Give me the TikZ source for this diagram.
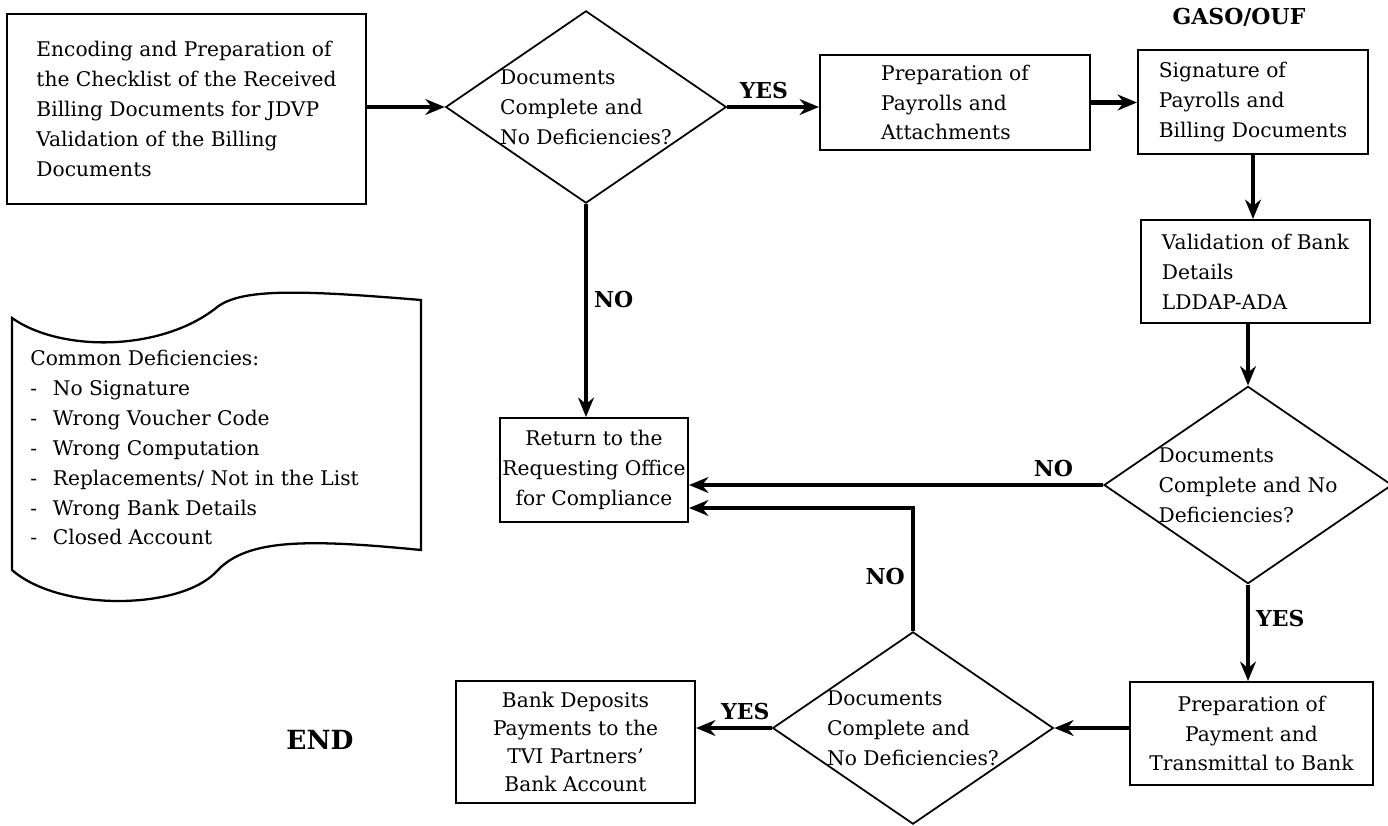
\documentclass[tikz,border=0pt]{standalone}
\usepackage{fontspec}
\setmainfont{DejaVu Serif}
\usetikzlibrary{calc,arrows.meta,shapes.geometric}

\begin{document}
\begin{tikzpicture}[x=0.02cm,y=-0.02cm,
    font=\fontsize{11.5}{17}\selectfont,
    box/.style={draw,line width=1.2pt,align=left,inner sep=0pt},
    boxc/.style={box,align=center},
    decide/.style={draw,diamond,line width=1pt,align=left,inner sep=0pt,aspect=1.46,
      minimum width=5.6cm,minimum height=3.84cm},
    flow/.style={line width=2.6pt,-{Stealth[length=11pt,width=9pt]}},
    tag/.style={font=\fontsize{12.5}{14}\selectfont\bfseries}]
  \useasboundingbox (0,0) rectangle (1388,825);

  \node[box,minimum width=7.18cm,minimum height=3.8cm] (encode) at (186.5,109)
    {Encoding and Preparation of\\the Checklist of the Received\\Billing Documents for JDVP\\Validation of the Billing\\Documents};
  \node[decide] (check1) at (586,107) {Documents\\Complete and\\No Deficiencies?};
  \node[box,minimum width=5.4cm,minimum height=1.9cm] (payroll) at (955,102.5)
    {Preparation of\\Payrolls and\\Attachments};
  \node[tag] (office) at (1239,17) {GASO/OUF};
  \node[box,minimum width=4.6cm,minimum height=2.08cm] (sign) at (1253,102)
    {Signature of\\Payrolls and\\Billing Documents};
  \node[box,minimum width=4.58cm,minimum height=2.06cm] (bank) at (1255.5,271.5)
    {Validation of Bank\\Details\\LDDAP-ADA};
  \node[decide] (check2) at (1248,485) {Documents\\Complete and No\\Deficiencies?};
  \node[boxc,minimum width=3.76cm,minimum height=2.08cm] (return) at (594,470)
    {Return to the\\Requesting Office\\for Compliance};
  \node[boxc,minimum width=4.86cm,minimum height=2.06cm] (payment) at (1251.5,733.5)
    {Preparation of\\Payment and\\Transmittal to Bank};
  \node[decide] (check3) at (913,728) {Documents\\Complete and\\No Deficiencies?};
  \node[boxc,minimum width=4.78cm,minimum height=2.44cm,font=\fontsize{11.5}{16}\selectfont] (deposit) at (575.5,742)
    {Bank Deposits\\Payments to the\\TVI Partners'\\Bank Account};
  \node[tag,font=\fontsize{15}{17}\selectfont\bfseries] (finish) at (320,740) {END};

  \draw[line width=1.3pt] (12,318) .. controls (60,352) and (160,352) .. (216,308)
    .. controls (240,288) and (300,290) .. (421,300) -- (421,550)
    .. controls (300,538) and (245,540) .. (216,572)
    .. controls (180,610) and (60,612) .. (12,570) -- cycle;
  \node[align=left,inner sep=0pt,anchor=north west] (deficit) at (30,350)
    {Common Deficiencies:\\
     \makebox[0.45cm][l]{-}No Signature\\
     \makebox[0.45cm][l]{-}Wrong Voucher Code\\
     \makebox[0.45cm][l]{-}Wrong Computation\\
     \makebox[0.45cm][l]{-}Replacements/ Not in the List\\
     \makebox[0.45cm][l]{-}Wrong Bank Details\\
     \makebox[0.45cm][l]{-}Closed Account};

  \draw[flow] (encode.east |- check1.west) -- (check1.west);
  \draw[flow] (check1.east) -- node[tag,above,pos=0.4]{YES} (check1.east -| payroll.west);
  \draw[flow] (payroll.east) -- (payroll.east -| sign.west);
  \draw[flow] (sign.south) -- (sign.south |- bank.north);
  \draw[flow] (check2.north |- bank.south) -- (check2.north);
  \draw[flow] (check1.south) -- node[tag,right,pos=0.45]{NO} (check1.south |- return.north);
  \draw[flow] (check2.west) -- node[tag,above,pos=0.12]{NO} (check2.west -| return.east);
  \draw[flow] (check3.north) |- node[tag,left,pos=0.22]{NO} ([yshift=-0.76cm]return.east);
  \draw[flow] (check2.south) -- node[tag,right,pos=0.35]{YES} (check2.south |- payment.north);
  \draw[flow] (payment.west |- check3.east) -- (check3.east);
  \draw[flow] (check3.west) -- node[tag,above,pos=0.35]{YES} (check3.west -| deposit.east);
\end{tikzpicture}
\end{document}
